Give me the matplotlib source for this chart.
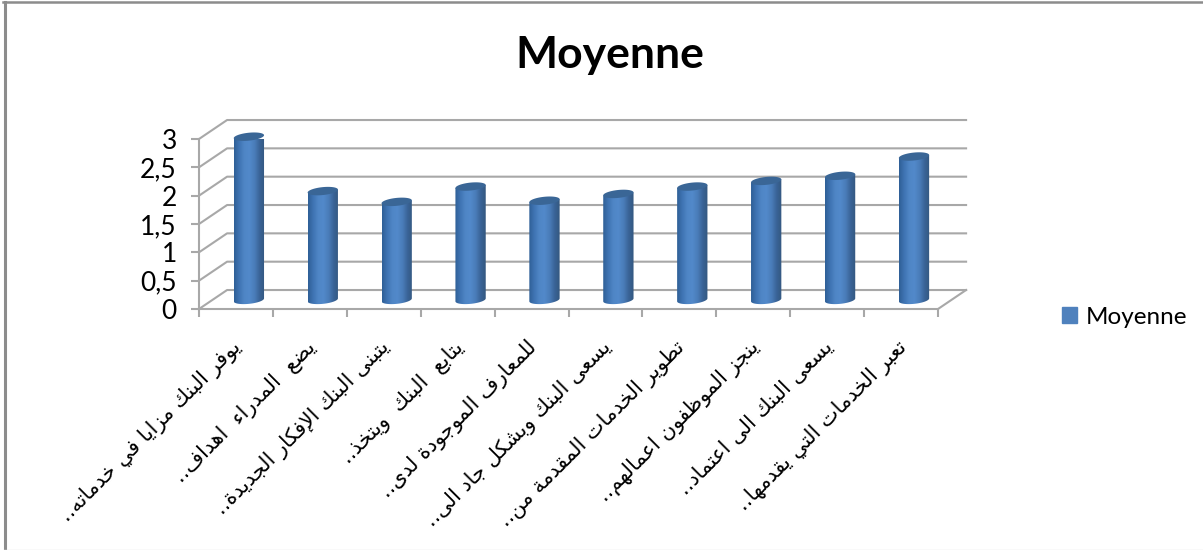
#!/usr/bin/env python3
import unicodedata
import numpy as np
import matplotlib
matplotlib.use("Agg")
import matplotlib.pyplot as plt
from matplotlib.colors import LinearSegmentedColormap
from matplotlib.lines import Line2D
from matplotlib.patches import Patch, Polygon
from matplotlib.transforms import ScaledTranslation

plt.rcParams["font.family"] = ["Lato", "DejaVu Sans"]

labels = [
    "يوفر البنك مزايا في خدماته..",
    "يضع  المدراء  اهداف..",
    "يتبنى البنك الإفكار الجديدة..",
    "يتابع  البنك  ويتخذ..",
    "للمعارف الموجودة لدى..",
    "يسعى البنك وبشكل جاد الى..",
    "تطوير الخدمات المقدمة من..",
    "ينجز الموظفون اعمالهم..",
    "يسعى البنك الى اعتماد..",
    "تعبر الخدمات التي يقدمها..",
]
values = [2.88, 1.92, 1.73, 2.0, 1.75, 1.87, 2.0, 2.1, 2.19, 2.53]
yticks = [0, 0.5, 1, 1.5, 2, 2.5, 3]
ytick_labels = ["0", "0,5", "1", "1,5", "2", "2,5", "3"]

W, H = 1203, 550
GREY = "#a8a8a8"
# wall depth, in data units
DX, DY = 0.38, 0.335

# presentation forms, taken from the unicode tables
forms = {}
for cp in range(0xFE70, 0xFEFD):
    d = unicodedata.decomposition(chr(cp))
    if d.startswith("<"):
        tag, *codes = d.split()
        key = "".join(chr(int(c, 16)) for c in codes)
        forms.setdefault(key, {})[tag[1:-1]] = chr(cp)


def shape(text):
    """matplotlib does no arabic shaping, so join letters and reverse here"""
    units = []
    i = 0
    while i < len(text):
        if text[i] == "ل" and i + 1 < len(text) and text[i + 1] in "اأإآ":
            units.append(text[i:i + 2])
            i += 2
        else:
            units.append(text[i])
            i += 1
    out = []
    for k, u in enumerate(units):
        f = forms.get(u)
        if not f:
            out.append(u)
            continue
        prev = forms.get(units[k - 1], {}) if k > 0 else {}
        nxt = forms.get(units[k + 1], {}) if k + 1 < len(units) else {}
        join_prev = "initial" in prev and "final" in f
        join_next = "initial" in f and "final" in nxt
        if join_prev and join_next:
            out.append(f["medial"])
        elif join_prev:
            out.append(f["final"])
        elif join_next:
            out.append(f["initial"])
        else:
            out.append(f["isolated"])
    return "".join(reversed(out))


fig = plt.figure(figsize=(W / 100, H / 100), dpi=100, facecolor="white")
ax = fig.add_axes([199 / W, 1 - 309 / H, (938 - 199) / W, (309 - 139) / H])
ax.patch.set_visible(False)

# back wall and side wall
for v in yticks:
    ax.plot([0, DX, 10 + DX], [v, v + DY, v + DY], color=GREY, lw=1.5, clip_on=False, zorder=1)
ax.plot([10, 10 + DX], [0, DY], color=GREY, lw=1.5, clip_on=False, zorder=1)

# cylinders
shade = LinearSegmentedColormap.from_list(
    "cyl", ["#2f5f97", "#3f74b3", "#4f86c6", "#5289ca", "#4a7db9", "#3a6498", "#34587f"]
)
gradient = np.linspace(0, 1, 64).reshape(1, -1)
half = 0.205
rx, ry, tilt = half, 0.07, 0.026
t = np.linspace(0, 2 * np.pi, 80)
base = DY * 0.48
for i, v in enumerate(values):
    cx = i + 0.5 + 0.175
    top = base + v
    low = np.linspace(np.pi, 2 * np.pi, 40)
    bx = cx + rx * np.cos(low)
    by = base + ry * np.sin(low) + tilt * np.cos(low)
    outline = np.column_stack([
        np.r_[bx, cx + rx, cx - rx],
        np.r_[by, top + tilt, top - tilt],
    ])
    clip = Polygon(outline, transform=ax.transData)
    im = ax.imshow(
        gradient, cmap=shade, aspect="auto", zorder=3, interpolation="bilinear",
        extent=(cx - rx, cx + rx, base - 0.2, top + 0.2),
    )
    im.set_clip_path(clip)
    ax.fill(
        cx + rx * np.cos(t), top + ry * np.sin(t) + tilt * np.cos(t),
        color="#3a6696", lw=0, zorder=4, clip_on=False,
    )

ax.set_xlim(0, 10)
ax.set_ylim(0, 3)

ax.set_yticks(yticks)
ax.set_yticklabels(ytick_labels, fontsize=19)
ax.set_xticks(np.arange(11), minor=True)
ax.set_xticks(np.arange(10) + 0.5)
ax.set_xticklabels(
    [shape(s) for s in labels], rotation=45, ha="right", va="top",
    rotation_mode="anchor", family="DejaVu Sans", fontsize=15,
)
ax.tick_params(axis="x", which="major", length=0, pad=20)
ax.tick_params(axis="x", which="minor", length=6, width=1.5, color=GREY)
ax.tick_params(axis="y", length=6, width=1.5, color=GREY, pad=10)
shift = ScaledTranslation(-5 / 100, 0, fig.dpi_scale_trans)
for lab in ax.get_xticklabels():
    lab.set_transform(lab.get_transform() + shift)
for side in ("top", "right"):
    ax.spines[side].set_visible(False)
for side in ("left", "bottom"):
    ax.spines[side].set_color(GREY)
    ax.spines[side].set_linewidth(1.5)

fig.text(610 / W, 1 - 55 / H, "Moyenne", fontsize=32, fontweight="bold", ha="center", va="center")

fig.legend(
    handles=[Patch(color="#4f81bd", label="Moyenne")], loc="center left",
    bbox_to_anchor=(1062 / W, 1 - 317 / H), frameon=False, fontsize=17.5,
    handlelength=0.62, handleheight=0.62, handletextpad=0.35, borderpad=0, borderaxespad=0,
)

# outer chart frame
fig.add_artist(Line2D([4.5 / W, 4.5 / W], [0, 1 - 1.5 / H], color="#8c8c8c", lw=2.2))
fig.add_artist(Line2D([3 / W, 1], [1 - 1.5 / H, 1 - 1.5 / H], color="#8c8c8c", lw=1.8))
fig.add_artist(Line2D([4 / W, 1], [0.5 / H, 0.5 / H], color="#e4e4e4", lw=1))

fig.savefig("out.png", dpi=100)
